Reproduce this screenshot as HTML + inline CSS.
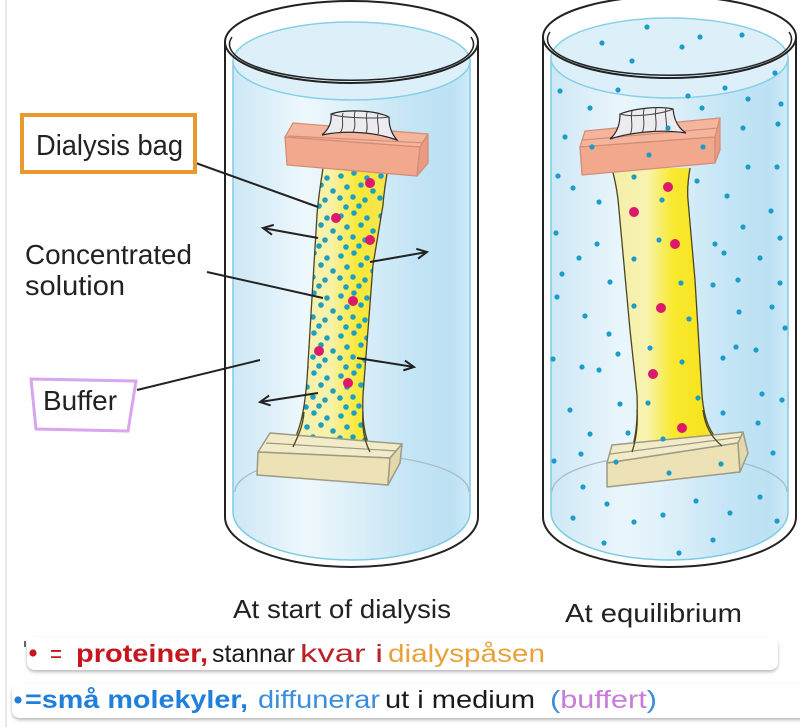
<!DOCTYPE html>
<html><head><meta charset="utf-8"><style>
html,body{margin:0;padding:0;background:#fff;}
svg{display:block;}
text{font-family:"Liberation Sans",Arial,sans-serif;}
</style></head><body>
<svg width="800" height="727" viewBox="0 0 800 727" xmlns="http://www.w3.org/2000/svg">
<defs>
<linearGradient id="wL" gradientUnits="userSpaceOnUse" x1="233" y1="0" x2="470" y2="0">
<stop offset="0" stop-color="#CDE8F5"/><stop offset="0.15" stop-color="#DCEFF9"/><stop offset="0.3" stop-color="#EEF8FC"/><stop offset="0.5" stop-color="#DDF0F9"/><stop offset="0.75" stop-color="#C4E5F5"/><stop offset="0.92" stop-color="#BBE1F3"/><stop offset="1" stop-color="#CFEAF7"/>
</linearGradient>
<linearGradient id="wR" gradientUnits="userSpaceOnUse" x1="551" y1="0" x2="788" y2="0">
<stop offset="0" stop-color="#CDE8F5"/><stop offset="0.15" stop-color="#DCEFF9"/><stop offset="0.3" stop-color="#EAF6FC"/><stop offset="0.5" stop-color="#DDF0F9"/><stop offset="0.75" stop-color="#C4E5F5"/><stop offset="0.92" stop-color="#BBE1F3"/><stop offset="1" stop-color="#CFEAF7"/>
</linearGradient>
<linearGradient id="yL" gradientUnits="userSpaceOnUse" x1="295" y1="0" x2="385" y2="0">
<stop offset="0" stop-color="#F4EFB0"/><stop offset="0.4" stop-color="#F8F2A8"/><stop offset="0.7" stop-color="#F8E838"/><stop offset="1" stop-color="#F4E550"/>
</linearGradient>
<linearGradient id="yR" gradientUnits="userSpaceOnUse" x1="615" y1="0" x2="720" y2="0">
<stop offset="0" stop-color="#F3EEA8"/><stop offset="0.3" stop-color="#F8F3B0"/><stop offset="0.55" stop-color="#F9E930"/><stop offset="0.85" stop-color="#F7E41E"/><stop offset="1" stop-color="#F3E46A"/>
</linearGradient>
<pattern id="dp" x="296" y="170" width="40" height="40" patternUnits="userSpaceOnUse">
<g fill="#1E9EC0">
<circle cx="5" cy="6" r="2.8"/><circle cx="18" cy="3" r="2.8"/><circle cx="31" cy="8" r="2.8"/><circle cx="11" cy="17" r="2.8"/><circle cx="25" cy="15" r="2.8"/><circle cx="37" cy="21" r="2.8"/><circle cx="4" cy="28" r="2.8"/><circle cx="17" cy="27" r="2.8"/><circle cx="29" cy="30" r="2.8"/><circle cx="10" cy="37" r="2.8"/><circle cx="23" cy="36" r="2.8"/>
</g>
</pattern>
<marker id="ah" markerWidth="14" markerHeight="14" refX="11" refY="6" orient="auto" markerUnits="userSpaceOnUse">
<path d="M1,1 L11,6 L1,11" fill="none" stroke="#222" stroke-width="2"/>
</marker>
<filter id="sh" x="-5%" y="-30%" width="110%" height="180%"><feDropShadow dx="0" dy="2" stdDeviation="1.6" flood-color="#000" flood-opacity="0.28"/></filter>
</defs>

<rect width="800" height="727" fill="#fff"/>
<line x1="6" y1="0" x2="6" y2="727" stroke="#E2E2E2" stroke-width="1.5"/>

<!-- LEFT CYLINDER -->
<path d="M233,61 L233,512 A118.5,48 0 0 0 470,512 L470,61 Z" fill="url(#wL)" stroke="#7FCBE3" stroke-width="1.5"/>
<ellipse cx="351.5" cy="61" rx="118.5" ry="39" fill="#DDF0FA" stroke="#86CFE6" stroke-width="1.5"/>
<path d="M235,492 A117,37 0 0 1 469,492" fill="none" stroke="#A9BCC6" stroke-width="1.3"/>

<!-- left bag -->
<path d="M323,168 C320,188 318,200 317,215 L307,380 C304,415 300,430 290,449 L372,452 C364,436 362,420 363,395 L373,265 L383,205 C384,190 386,180 388,168 Z" fill="url(#yL)"/>
<path d="M323,168 C320,188 318,200 317,215 L307,380 C304,415 300,430 290,449 L372,452 C364,436 362,420 363,395 L373,265 L383,205 C384,190 386,180 388,168 Z" fill="url(#dp)"/>
<path d="M323,168 C320,188 318,200 317,215 L307,380 C304,415 300,430 290,449 M372,452 C364,436 362,420 363,395 L373,265 L383,205 C384,190 386,180 388,168" fill="none" stroke="#4A4520" stroke-width="1.3"/>
<g fill="#DC1A6C">
<circle cx="370" cy="183" r="5"/><circle cx="336" cy="218" r="5"/><circle cx="370" cy="240" r="5"/><circle cx="353" cy="301" r="5"/><circle cx="319" cy="351" r="5"/><circle cx="348" cy="383" r="5"/>
</g>

<!-- left bottom block -->
<polygon points="270,433 402,444 390,458 258,452" fill="#F2EBC8" stroke="#9E9A86" stroke-width="1.5" stroke-linejoin="round"/>
<line x1="266" y1="443" x2="397" y2="451" stroke="#9E9A86" stroke-width="1.2"/>
<polygon points="258,452 390,458 388,485 257,475" fill="#ECE2B6" stroke="#9E9A86" stroke-width="1.5" stroke-linejoin="round"/>
<polygon points="390,458 402,444 400,463 388,485" fill="#E2D8AC" stroke="#9E9A86" stroke-width="1.5" stroke-linejoin="round"/>
<path d="M293,447 C300,432 303,425 304,412 M370,452 C364,440 362,428 363,412" fill="none" stroke="#4A4520" stroke-width="1.3"/>

<!-- left top clamp -->
<polygon points="293,123 428,134 420,147 285,137" fill="#F5B59C" stroke="#D48E78" stroke-width="1.3" stroke-linejoin="round"/>
<line x1="288" y1="136" x2="426" y2="143" stroke="#D48E78" stroke-width="1.2"/>
<polygon points="285,137 420,147 417,176 287,165" fill="#F2A88D" stroke="#D48E78" stroke-width="1.3" stroke-linejoin="round"/>
<polygon points="420,147 428,134 428,163 417,176" fill="#E99C82" stroke="#D48E78" stroke-width="1.3" stroke-linejoin="round"/>
<path d="M322,135 C329,129 332,122 331,114 C345,109 375,110 389,117 C389,126 391,133 397,140 C375,132 345,130 322,135 Z" fill="#ECECF0" stroke="#2A2A2A" stroke-width="1.2"/>
<path d="M343,113 C341,120 345,126 340,133 M355,111 C353,119 357,125 353,132 M367,112 C365,120 369,126 366,133 M378,114 C376,121 380,128 378,134 M331,114 C340,118 378,119 389,117" fill="none" stroke="#444" stroke-width="1"/>

<!-- left outline -->
<path d="M225,42 L225,517 A126.5,50 0 0 0 478,517 L478,42" fill="none" stroke="#222" stroke-width="2"/>
<ellipse cx="351.5" cy="42" rx="126.5" ry="41" fill="none" stroke="#222" stroke-width="2"/>
<path d="M232,37 A122,36 0 1 0 471,37" fill="none" stroke="#222" stroke-width="1.5"/>

<!-- arrows -->
<g stroke="#222" stroke-width="2" fill="none">
<line x1="318" y1="238" x2="263" y2="228" marker-end="url(#ah)"/>
<line x1="370" y1="262" x2="427" y2="252" marker-end="url(#ah)"/>
<line x1="357" y1="358" x2="414" y2="367" marker-end="url(#ah)"/>
<line x1="318" y1="393" x2="260" y2="402" marker-end="url(#ah)"/>
<line x1="193" y1="162" x2="318" y2="207"/>
<line x1="207" y1="272" x2="323" y2="298"/>
<line x1="137" y1="390" x2="260" y2="360"/>
</g>

<!-- RIGHT CYLINDER -->
<path d="M551,58 L551,512 A118.5,48 0 0 0 788,512 L788,58 Z" fill="url(#wR)" stroke="#7FCBE3" stroke-width="1.5"/>
<ellipse cx="669.5" cy="58" rx="118.5" ry="40" fill="#DDF0FA" stroke="#86CFE6" stroke-width="1.5"/>
<path d="M552,492 A117.5,37 0 0 1 787,492" fill="none" stroke="#A9BCC6" stroke-width="1.3"/>

<!-- right bag -->
<path d="M612,168 C616,185 618,195 619,210 L630,330 L637,395 C638,420 636,440 630,454 L724,446 C710,435 704,420 702,395 L695,280 L688,200 C687,190 688,180 690,168 Z" fill="url(#yR)"/>
<path d="M612,168 C616,185 618,195 619,210 L630,330 L637,395 C638,420 636,440 630,454 M724,446 C710,435 704,420 702,395 L695,280 L688,200 C687,190 688,180 690,168" fill="none" stroke="#4A4520" stroke-width="1.3"/>

<!-- right bottom block -->
<polygon points="612,445 743,432 738,443 607,463" fill="#F2EBC8" stroke="#9E9A86" stroke-width="1.5" stroke-linejoin="round"/>
<line x1="610" y1="454" x2="741" y2="437" stroke="#9E9A86" stroke-width="1.2"/>
<polygon points="607,463 738,443 740,472 607,487" fill="#ECE2B6" stroke="#9E9A86" stroke-width="1.5" stroke-linejoin="round"/>
<polygon points="738,443 743,432 748,453 740,472" fill="#E2D8AC" stroke="#9E9A86" stroke-width="1.5" stroke-linejoin="round"/>
<path d="M632,452 C636,440 638,425 637,410 M722,446 C710,436 705,425 703,410" fill="none" stroke="#4A4520" stroke-width="1.3"/>

<!-- right top clamp -->
<polygon points="585,131 720,118 715,137 580,147" fill="#F5B59C" stroke="#D48E78" stroke-width="1.3" stroke-linejoin="round"/>
<line x1="583" y1="140" x2="718" y2="128" stroke="#D48E78" stroke-width="1.2"/>
<polygon points="580,147 715,137 715,163 582,175" fill="#F2A88D" stroke="#D48E78" stroke-width="1.3" stroke-linejoin="round"/>
<polygon points="715,137 720,118 720,150 715,163" fill="#E99C82" stroke="#D48E78" stroke-width="1.3" stroke-linejoin="round"/>
<path d="M610,139 C617,133 620,124 620,114 C635,108 660,106 673,109 C674,120 678,128 686,133 C662,129 632,132 610,139 Z" fill="#ECECF0" stroke="#2A2A2A" stroke-width="1.2"/>
<path d="M632,111 C630,119 634,126 630,135 M644,109 C642,117 646,124 642,133 M656,108 C654,116 658,123 655,131 M666,108 C664,116 668,122 666,130 M620,114 C632,118 662,114 673,109" fill="none" stroke="#444" stroke-width="1"/>

<!-- right outline -->
<path d="M543,37 L543,517 A126.5,50 0 0 0 796,517 L796,37" fill="none" stroke="#222" stroke-width="2"/>
<ellipse cx="669.5" cy="37" rx="126.5" ry="41" fill="none" stroke="#222" stroke-width="2"/>
<path d="M550,32 A122,36 0 1 0 789,32" fill="none" stroke="#222" stroke-width="1.5"/>

<!-- right dots -->
<g fill="#1E9CC8">
<circle cx="647" cy="27" r="2.6"/><circle cx="602" cy="43" r="2.6"/><circle cx="700" cy="37" r="2.6"/><circle cx="742" cy="35" r="2.6"/><circle cx="682" cy="47" r="2.6"/><circle cx="632" cy="61" r="2.6"/><circle cx="775" cy="73" r="2.6"/><circle cx="560" cy="91" r="2.6"/><circle cx="618" cy="90" r="2.6"/><circle cx="688" cy="96" r="2.6"/><circle cx="725" cy="88" r="2.6"/><circle cx="748" cy="99" r="2.6"/><circle cx="781" cy="104" r="2.6"/><circle cx="590" cy="108" r="2.6"/><circle cx="702" cy="108" r="2.6"/><circle cx="668" cy="128" r="2.6"/><circle cx="743" cy="128" r="2.6"/><circle cx="778" cy="124" r="2.6"/><circle cx="565" cy="137" r="2.6"/><circle cx="592" cy="147" r="2.6"/><circle cx="703" cy="147" r="2.6"/><circle cx="649" cy="155" r="2.6"/><circle cx="748" cy="167" r="2.6"/><circle cx="777" cy="167" r="2.6"/><circle cx="558" cy="176" r="2.6"/><circle cx="573" cy="188" r="2.6"/><circle cx="634" cy="177" r="2.6"/><circle cx="697" cy="181" r="2.6"/><circle cx="727" cy="196" r="2.6"/><circle cx="599" cy="202" r="2.6"/><circle cx="662" cy="200" r="2.6"/><circle cx="771" cy="211" r="2.6"/><circle cx="743" cy="227" r="2.6"/><circle cx="780" cy="238" r="2.6"/><circle cx="556" cy="233" r="2.6"/><circle cx="597" cy="244" r="2.6"/><circle cx="659" cy="240" r="2.6"/><circle cx="715" cy="244" r="2.6"/><circle cx="724" cy="253" r="2.6"/><circle cx="579" cy="258" r="2.6"/><circle cx="634" cy="259" r="2.6"/><circle cx="760" cy="258" r="2.6"/><circle cx="562" cy="274" r="2.6"/><circle cx="610" cy="282" r="2.6"/><circle cx="681" cy="283" r="2.6"/><circle cx="713" cy="285" r="2.6"/><circle cx="738" cy="280" r="2.6"/><circle cx="780" cy="283" r="2.6"/><circle cx="557" cy="297" r="2.6"/>
<circle cx="634" cy="306" r="2.6"/><circle cx="689" cy="319" r="2.6"/><circle cx="739" cy="312" r="2.6"/><circle cx="772" cy="307" r="2.6"/><circle cx="785" cy="328" r="2.6"/><circle cx="585" cy="316" r="2.6"/><circle cx="609" cy="334" r="2.6"/><circle cx="618" cy="354" r="2.6"/><circle cx="650" cy="348" r="2.6"/><circle cx="682" cy="362" r="2.6"/><circle cx="723" cy="358" r="2.6"/><circle cx="736" cy="347" r="2.6"/><circle cx="756" cy="350" r="2.6"/><circle cx="553" cy="359" r="2.6"/><circle cx="582" cy="367" r="2.6"/><circle cx="599" cy="370" r="2.6"/><circle cx="762" cy="394" r="2.6"/><circle cx="782" cy="400" r="2.6"/><circle cx="698" cy="398" r="2.6"/><circle cx="648" cy="403" r="2.6"/><circle cx="620" cy="404" r="2.6"/><circle cx="570" cy="410" r="2.6"/><circle cx="723" cy="413" r="2.6"/><circle cx="758" cy="423" r="2.6"/><circle cx="590" cy="434" r="2.6"/><circle cx="628" cy="433" r="2.6"/><circle cx="663" cy="439" r="2.6"/><circle cx="581" cy="454" r="2.6"/><circle cx="773" cy="453" r="2.6"/><circle cx="554" cy="461" r="2.6"/><circle cx="616" cy="462" r="2.6"/><circle cx="721" cy="464" r="2.6"/><circle cx="669" cy="473" r="2.6"/><circle cx="583" cy="487" r="2.6"/><circle cx="607" cy="504" r="2.6"/><circle cx="696" cy="501" r="2.6"/><circle cx="760" cy="497" r="2.6"/><circle cx="573" cy="518" r="2.6"/><circle cx="634" cy="522" r="2.6"/><circle cx="663" cy="515" r="2.6"/><circle cx="730" cy="513" r="2.6"/><circle cx="777" cy="521" r="2.6"/><circle cx="604" cy="543" r="2.6"/><circle cx="713" cy="540" r="2.6"/><circle cx="679" cy="553" r="2.6"/>
</g>
<g fill="#DC1A6C">
<circle cx="668" cy="187" r="5"/><circle cx="634" cy="212" r="5"/><circle cx="675" cy="244" r="5"/><circle cx="661" cy="308" r="5"/><circle cx="653" cy="374" r="5"/><circle cx="682" cy="428" r="5"/>
</g>

<!-- LABELS -->
<rect x="22" y="115" width="173" height="57" fill="#fff" stroke="#E89A2C" stroke-width="4"/>
<text x="36" y="155" font-size="29" fill="#222" textLength="147" lengthAdjust="spacingAndGlyphs">Dialysis bag</text>
<text x="25" y="264" font-size="28" fill="#222" textLength="167" lengthAdjust="spacingAndGlyphs">Concentrated</text>
<text x="25" y="295" font-size="28" fill="#222" textLength="100" lengthAdjust="spacingAndGlyphs">solution</text>
<polygon points="31,379 136,381 128,431 36,429" fill="#fff" stroke="#D7A6EC" stroke-width="3"/>
<text x="43" y="410" font-size="28" fill="#222" textLength="74" lengthAdjust="spacingAndGlyphs">Buffer</text>

<text x="233" y="618" font-size="26" fill="#222" textLength="218" lengthAdjust="spacingAndGlyphs">At start of dialysis</text>
<text x="565" y="622" font-size="26" fill="#222" textLength="177" lengthAdjust="spacingAndGlyphs">At equilibrium</text>

<!-- note boxes -->
<rect x="27" y="637" width="751" height="33" rx="8" fill="#fff" filter="url(#sh)"/>
<rect x="12" y="684" width="800" height="34" rx="8" fill="#fff" filter="url(#sh)"/>
<line x1="25" y1="641" x2="25" y2="647" stroke="#333" stroke-width="1.5"/>
<circle cx="33" cy="653" r="3.6" fill="#C4161C"/>
<text x="50" y="662" font-size="25" fill="#C4161C" textLength="12" lengthAdjust="spacingAndGlyphs">=</text>
<text x="76" y="662" font-size="25" font-weight="bold" fill="#C4161C" textLength="132" lengthAdjust="spacingAndGlyphs">proteiner,</text>
<text x="212" y="662" font-size="25" fill="#1a1a1a" textLength="83" lengthAdjust="spacingAndGlyphs">stannar</text>
<text x="300" y="662" font-size="25" fill="#B82228" textLength="83" lengthAdjust="spacingAndGlyphs">kvar i</text>
<text x="388" y="662" font-size="25" fill="#E9A23B" textLength="157" lengthAdjust="spacingAndGlyphs">dialyspåsen</text>

<circle cx="18" cy="700" r="3.6" fill="#1F7FDB"/>
<text x="25" y="708" font-size="25" font-weight="bold" fill="#1F7FDB" textLength="223" lengthAdjust="spacingAndGlyphs">=små molekyler,</text>
<text x="258" y="708" font-size="25" fill="#3B8EDB" textLength="122" lengthAdjust="spacingAndGlyphs">diffunerar</text>
<text x="385" y="708" font-size="25" fill="#1a1a1a" textLength="150" lengthAdjust="spacingAndGlyphs">ut i medium</text>
<text x="550" y="708" font-size="25" fill="#3B8EDB" textLength="107" lengthAdjust="spacingAndGlyphs">(<tspan fill="#C77DD9">buffert</tspan>)</text>
</svg>
</body></html>
